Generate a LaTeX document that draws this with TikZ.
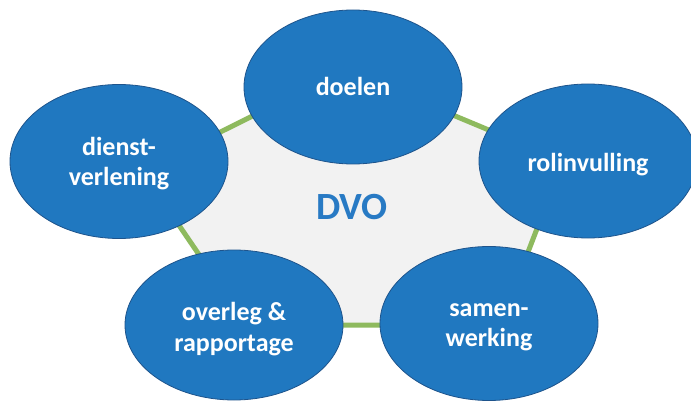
\documentclass[tikz,border=0pt]{standalone}
\usepackage{fontspec}
\setmainfont{Carlito}
\usetikzlibrary{shapes.geometric}
\definecolor{ellfill}{RGB}{32,120,192}
\definecolor{elldraw}{RGB}{30,84,140}
\definecolor{pentgreen}{RGB}{142,186,94}
\definecolor{pentfill}{RGB}{242,242,242}
\definecolor{dvoblue}{RGB}{40,122,196}
\tikzset{
  topic/.style={ellipse, fill=ellfill, draw=elldraw, line width=0.8pt,
    minimum width=218pt, minimum height=154pt, inner sep=0pt},
  topictext/.style={text=white, align=center, inner sep=0pt,
    font=\fontsize{26}{30.5}\selectfont\bfseries},
  pentedge/.style={draw=pentgreen, line width=5pt, fill=pentfill, line join=miter},
  centertext/.style={text=dvoblue, font=\fontsize{38.5}{42}\selectfont\bfseries}
}
\begin{document}
\begin{tikzpicture}[x=1pt,y=-1pt]
\fill[white] (0,0) rectangle (691,401);
\useasboundingbox (0,0) rectangle (691,401);
\coordinate (p1) at (345,70);
\coordinate (p2) at (563,161);
\coordinate (p3) at (500,325);
\coordinate (p4) at (247,325);
\coordinate (p5) at (142,171);
\draw[pentedge] (p1) -- (p2) -- (p3) -- (p4) -- (p5) -- cycle;
\node[centertext] (dvo) at (352,207) {DVO};
\node[topic, label={[topictext, yshift=1pt]center:doelen}] (doelen) at (353,87) {};
\node[topic, label={[topictext, yshift=-4pt]center:rolinvulling}] (rol) at (588,161) {};
\node[topic, label={[topictext, yshift=-4pt]center:{samen-\\werking}}] (samen) at (489,323.5) {};
\node[topic, minimum height=150pt, label={[topictext, yshift=-4pt]center:{overleg \&\\rapportage}}] (overleg) at (234,325) {};
\node[topic, label={[topictext, yshift=-2pt]center:{dienst-\\verlening}}] (dienst) at (119,161.5) {};
\end{tikzpicture}
\end{document}
